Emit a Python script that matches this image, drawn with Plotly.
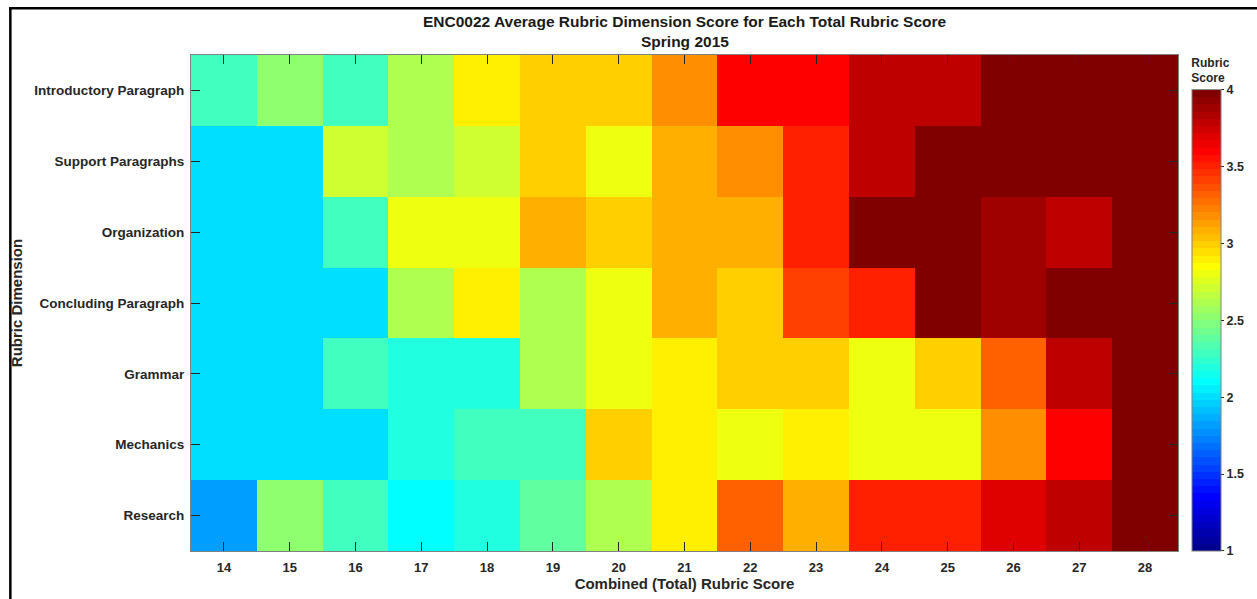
import plotly.graph_objects as go

# ---- data ----
total_scores = [14, 15, 16, 17, 18, 19, 20, 21, 22, 23, 24, 25, 26, 27, 28]
dimensions = ["Introductory Paragraph", "Support Paragraphs", "Organization",
              "Concluding Paragraph", "Grammar", "Mechanics", "Research"]

introductory = [2.29, 2.52, 2.29, 2.62, 2.90, 2.99, 2.99, 3.18, 3.60, 3.60, 3.79, 3.79, 4.00, 4.00, 4.00]
support      = [2.00, 2.00, 2.71, 2.62, 2.71, 2.99, 2.80, 3.09, 3.18, 3.51, 3.79, 4.00, 4.00, 4.00, 4.00]
organization = [2.00, 2.00, 2.29, 2.80, 2.80, 3.09, 2.99, 3.09, 3.09, 3.51, 4.00, 4.00, 3.88, 3.79, 4.00]
concluding   = [2.00, 2.00, 2.00, 2.62, 2.90, 2.62, 2.80, 3.09, 2.99, 3.41, 3.51, 4.00, 3.88, 4.00, 4.00]
grammar      = [2.00, 2.00, 2.29, 2.20, 2.20, 2.62, 2.80, 2.90, 2.99, 2.99, 2.80, 2.99, 3.32, 3.79, 4.00]
mechanics    = [2.00, 2.00, 2.00, 2.20, 2.29, 2.29, 2.99, 2.90, 2.80, 2.90, 2.80, 2.80, 3.18, 3.60, 4.00]
research     = [1.82, 2.52, 2.29, 2.10, 2.20, 2.39, 2.62, 2.90, 3.32, 3.09, 3.51, 3.51, 3.70, 3.79, 4.00]

z = [introductory, support, organization, concluding, grammar, mechanics, research]

cbar_ticks = [1, 1.5, 2, 2.5, 3, 3.5, 4]


# ---- MATLAB jet(64) as stepped colorscale ----
def jet64():
    n, m = 64, 16
    u = [(k + 1) / m for k in range(m)] + [1.0] * (m - 1) + [(m - k) / m for k in range(m)]
    g0 = 8
    cols = []
    for i in range(1, n + 1):
        def val(idx):
            k = idx - 1
            return u[k] if 0 <= k < len(u) else 0.0
        cols.append((val(i - (g0 + m)), val(i - g0), val(i - (g0 - m))))
    return cols


cs = []
for i, (r, g, b) in enumerate(jet64()):
    c = "rgb(%d,%d,%d)" % (round(r * 255), round(g * 255), round(b * 255))
    cs.append([i / 64, c])
    cs.append([(i + 1) / 64, c])
cs[-1][0] = 1.0

FONT = "Liberation Sans, Arial, Helvetica, sans-serif"
TXT = "#262626"

W, H = 1257, 599
ML, MR, MT, MB = 191, 70, 55, 45
PW, PH = W - ML - MR, H - MT - MB


def px(x):
    return (x - ML) / PW


def py(y):
    return 1 - (y - MT) / PH


fig = go.Figure(go.Heatmap(
    x=total_scores, y=dimensions, z=z,
    zmin=1, zmax=4, colorscale=cs,
    colorbar=dict(
        title=dict(text="Rubric<br>Score", side="top",
                   font=dict(family=FONT, size=12, color=TXT, weight="bold")),
        tickvals=cbar_ticks, ticktext=[("%g" % t) for t in cbar_ticks],
        ticks="outside", ticklen=3, tickcolor=TXT,
        tickfont=dict(family=FONT, size=12.5, color=TXT, weight="bold"),
        thickness=29, thicknessmode="pixels",
        len=1, lenmode="fraction", y=0.5, yanchor="middle",
        x=px(1201), xanchor="left", xpad=0, ypad=0,
        outlinewidth=1, outlinecolor="#808080",
    ),
))

fig.update_layout(
    width=W, height=H,
    margin=dict(l=ML, r=MR, t=MT, b=MB),
    paper_bgcolor="white", plot_bgcolor="white",
    font=dict(family=FONT, color=TXT),
    showlegend=False,
    xaxis=dict(
        range=[13.5, 28.5], tickmode="array", tickvals=total_scores,
        ticks="inside", ticklen=9, tickcolor=TXT, tickwidth=1,
        showline=True, linecolor="#808080", linewidth=1, mirror="ticks",
        showgrid=False, zeroline=False, ticklabelstandoff=4,
        tickfont=dict(family=FONT, size=13, color=TXT, weight="bold"),
        title=dict(text="Combined (Total) Rubric Score", standoff=2,
                   font=dict(family=FONT, size=15, color=TXT, weight="bold")),
    ),
    yaxis=dict(
        autorange="reversed",
        ticks="inside", ticklen=9, tickcolor=TXT, tickwidth=1,
        showline=True, linecolor="#808080", linewidth=1, mirror="ticks",
        showgrid=False, zeroline=False, ticklabelstandoff=3,
        tickfont=dict(family=FONT, size=13.5, color=TXT, weight="bold"),
        title=dict(text="Rubric Dimension", standoff=8,
                   font=dict(family=FONT, size=15, color=TXT, weight="bold")),
    ),
    annotations=[
        dict(text="ENC0022 Average Rubric Dimension Score for Each Total Rubric Score",
             xref="paper", yref="paper", x=0.5, y=py(21),
             xanchor="center", yanchor="middle", showarrow=False,
             font=dict(family=FONT, size=15.5, color="#1a1a1a", weight="bold")),
        dict(text="Spring 2015",
             xref="paper", yref="paper", x=0.5, y=py(41),
             xanchor="center", yanchor="middle", showarrow=False,
             font=dict(family=FONT, size=15.5, color="#1a1a1a", weight="bold")),
    ],
    shapes=[
        dict(type="line", xref="paper", yref="paper",
             x0=px(8.7), x1=px(8.7), y0=py(7), y1=py(H + 10),
             line=dict(color="black", width=2.5)),
        dict(type="line", xref="paper", yref="paper",
             x0=px(7.5), x1=px(W + 10), y0=py(8), y1=py(8),
             line=dict(color="black", width=2.5)),
    ],
)

fig.write_html("out.html", config={"displayModeBar": False},
               post_script="document.body.style.margin='0';")
